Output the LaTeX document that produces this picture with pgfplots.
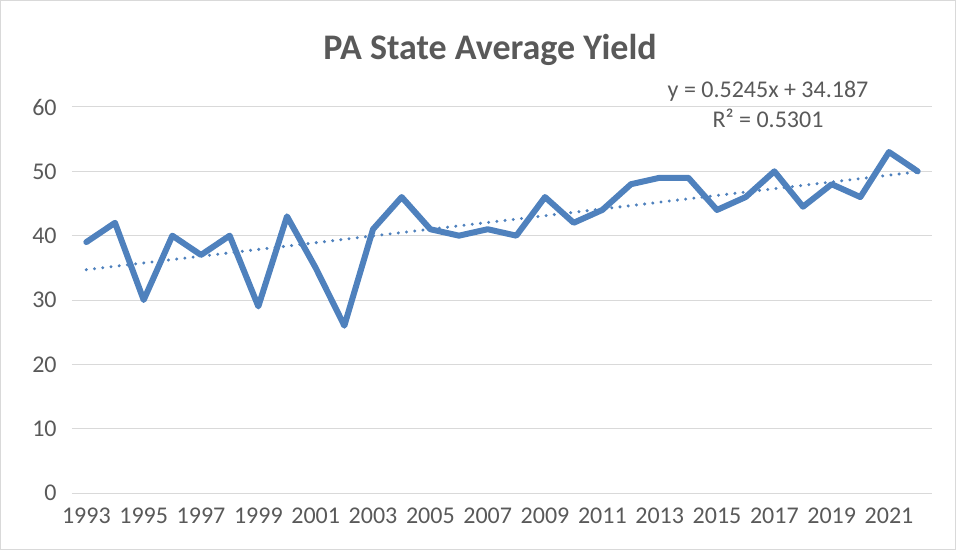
\documentclass[border=0pt]{standalone}
\usepackage{pgfplots}
\pgfplotsset{compat=1.18}
\usepackage{fontspec}
\setmainfont{Carlito}
\definecolor{txt}{RGB}{89,89,89}
\definecolor{gridc}{RGB}{217,217,217}
\definecolor{blue1}{RGB}{79,129,189}
\begin{document}
\begin{tikzpicture}
\useasboundingbox (0,0) rectangle (717pt,412.5pt);
\draw[gridc, line width=0.75pt] (0.375pt,0.375pt) rectangle (716.625pt,412.125pt);
\node[text=txt, font=\fontsize{27}{32}\selectfont\bfseries] at (367.5pt,375pt) {PA State Average Yield};
\begin{axis}[
  at={(54pt,42.75pt)}, anchor=south west,
  scale only axis, width=645pt, height=289.5pt,
  xmin=1992.5, xmax=2022.5, ymin=0, ymax=60,
  xtick={1993,1995,1997,1999,2001,2003,2005,2007,2009,2011,2013,2015,2017,2019,2021},
  xticklabels={1993,1995,1997,1999,2001,2003,2005,2007,2009,2011,2013,2015,2017,2019,2021},
  ytick={0,10,20,30,40,50,60},
  /pgf/number format/assume math mode=true,
  ticklabel style={font=\fontsize{18}{21}\selectfont, text=txt},
  xticklabel style={yshift=-8pt},
  yticklabel style={xshift=-8pt},
  major tick length=0pt,
  axis line style={draw=none},
  ymajorgrids, grid style={gridc, line width=0.75pt},
  clip=false,
]
\addplot[blue1, line width=4.5pt, line join=round, line cap=round, mark=none] coordinates {
(1993,39) (1994,42) (1995,30) (1996,40) (1997,37) (1998,40) (1999,29) (2000,43)
(2001,35) (2002,26) (2003,41) (2004,46) (2005,41) (2006,40) (2007,41) (2008,40)
(2009,46) (2010,42) (2011,44) (2012,48) (2013,49) (2014,49) (2015,44) (2016,46)
(2017,50) (2018,44.5) (2019,48) (2020,46) (2021,53) (2022,50)
};
\addplot[blue1, line width=2.5pt, line cap=round, dash pattern=on 0pt off 6.2pt, mark=none] coordinates {
(1993,34.7115) (2022,49.922)
};
\node[font=\fontsize{18}{22.5}\selectfont, text=txt, align=center] at (axis cs:2016.78,60.35) {y = 0.5245x + 34.187\\R² = 0.5301};
\end{axis}
\end{tikzpicture}
\end{document}
